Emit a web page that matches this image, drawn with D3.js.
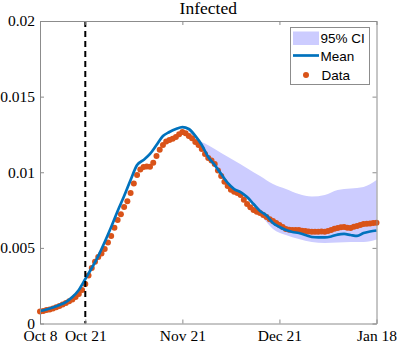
<!DOCTYPE html>
<html>
<head>
<meta charset="utf-8">
<script src="https://cdn.jsdelivr.net/npm/d3@7"></script>
<style>
  html, body { margin: 0; padding: 0; background: #fff; }
  svg { display: block; }
</style>
</head>
<body>
<svg id="chart" width="399" height="343"></svg>
<script>
// day index 0 = Oct 8
const tickDays = [0, 14, 44, 74, 104]
const tickLabels = ['Oct 8', 'Oct 21', 'Nov 21', 'Dec 21', 'Jan 18']
const yTicks = [0, 0.005, 0.01, 0.015, 0.02]
const cutoffDay = 14

// observed data, one per day
const observed = [
  0.00079, 0.00083, 0.00089, 0.00093, 0.00099, 0.00107, 0.00116, 0.00125, 0.00136, 0.00147,
  0.00159, 0.00176, 0.00195, 0.00222, 0.00261, 0.00318, 0.00367, 0.00408, 0.00440, 0.00462,
  0.00493, 0.00535, 0.00579, 0.00633, 0.00684, 0.00722, 0.00770, 0.00808, 0.00863, 0.00926,
  0.00982, 0.01018, 0.01035, 0.01038, 0.01037, 0.01062, 0.01107, 0.01148, 0.01180, 0.01203,
  0.01213, 0.01222, 0.01233, 0.01252, 0.01266, 0.01258, 0.01240, 0.01224, 0.01200, 0.01180,
  0.01154, 0.01120, 0.01094, 0.01078, 0.01055, 0.01012, 0.00975, 0.00938, 0.00909, 0.00885,
  0.00871, 0.00862, 0.00850, 0.00818, 0.00790, 0.00768, 0.00750, 0.00739, 0.00731, 0.00718,
  0.00704, 0.00690, 0.00678, 0.00664, 0.00651, 0.00638, 0.00625, 0.00620, 0.00618, 0.00619,
  0.00618, 0.00614, 0.00612, 0.00609, 0.00607, 0.00606, 0.00607, 0.00609, 0.00607, 0.00612,
  0.00618, 0.00626, 0.00631, 0.00636, 0.00638, 0.00633, 0.00631, 0.00640, 0.00645, 0.00652,
  0.00658, 0.00660, 0.00661, 0.00664, 0.00666
]

// model mean, every 2 days
const meanDays = [0, 2, 4, 6, 8, 10, 12, 14, 16, 18, 20, 22, 24, 26, 28, 30, 32, 34, 36, 38,
  40, 42, 44, 46, 48, 50, 52, 54, 56, 58, 60, 62, 64, 66, 68, 70, 72, 74, 76, 78,
  80, 82, 84, 86, 88, 90, 92, 94, 96, 98, 100, 102, 104]
const meanVals = [0.00083, 0.00093, 0.00106, 0.00122, 0.00142, 0.00175, 0.00222, 0.00294, 0.00367, 0.00446,
  0.00539, 0.00638, 0.00744, 0.00843, 0.00949, 0.01048, 0.01081, 0.01121, 0.01180, 0.01240,
  0.01266, 0.01286, 0.01299, 0.01286, 0.01240, 0.01180, 0.01101, 0.01048, 0.00988, 0.00929,
  0.00889, 0.00869, 0.00836, 0.00790, 0.00744, 0.00714, 0.00665, 0.00638, 0.00618, 0.00605,
  0.00598, 0.00585, 0.00572, 0.00569, 0.00569, 0.00575, 0.00588, 0.00592, 0.00585, 0.00579,
  0.00598, 0.00608, 0.00615]

// 95% CI band
const ciDays = [45, 48, 52, 56, 60, 64, 68, 72, 76, 80, 84, 88, 92, 96, 100, 104]
const ciUpper = [0.01293, 0.01227, 0.01179, 0.01128, 0.01078, 0.01027, 0.00975, 0.00922,
  0.00889, 0.00856, 0.00840, 0.00850, 0.00883, 0.00893, 0.00903, 0.00949]
const ciLower = [0.01293, 0.01233, 0.01094, 0.00975, 0.00876, 0.00823, 0.00724, 0.00625,
  0.00585, 0.00559, 0.00539, 0.00532, 0.00536, 0.00539, 0.00539, 0.00555]

const colCI = '#ccccff', colMean = '#0072bd', colData = '#d95319'
const serif = '"Liberation Serif", "Times New Roman", serif'
const sans = '"Liberation Sans", Arial, sans-serif'

const svg = d3.select('#chart')
const mLeft = 40, mRight = 376.5, mTop = 21, mBottom = 323.5

const x = d3.scaleLinear().domain([0, 104]).range([mLeft, mRight])
const y = d3.scaleLinear().domain([0, 0.02]).range([mBottom, mTop])

// CI band
const ci = ciDays.map((d, i) => [d, ciLower[i], ciUpper[i]])
svg.append('path')
    .datum(ci)
    .attr('fill', colCI)
    .attr('d', d3.area().x(d => x(d[0])).y0(d => y(d[1])).y1(d => y(d[2])).curve(d3.curveMonotoneX))

// data dots
svg.append('g').selectAll('circle').data(observed)
    .join('circle')
    .attr('cx', (d, i) => x(i))
    .attr('cy', d => y(d))
    .attr('r', 3)
    .attr('fill', colData)

// mean line
svg.append('path')
    .datum(meanDays.map((d, i) => [d, meanVals[i]]))
    .attr('fill', 'none')
    .attr('stroke', colMean)
    .attr('stroke-width', 2.7)
    .attr('stroke-linejoin', 'round')
    .attr('d', d3.line().x(d => x(d[0])).y(d => y(d[1])).curve(d3.curveMonotoneX))

// dashed cutoff
svg.append('line')
    .attr('x1', x(cutoffDay)).attr('x2', x(cutoffDay))
    .attr('y1', mTop).attr('y2', mBottom)
    .attr('stroke', '#000')
    .attr('stroke-width', 2)
    .attr('stroke-dasharray', '6,4')

// AXES (inward ticks, box)
const axisCol = '#8c8c8c'
function styleAxis(g) {
    g.selectAll('path.domain').attr('stroke', axisCol)
    g.selectAll('.tick line').attr('stroke', axisCol)
    g.selectAll('.tick text').attr('fill', '#000').style('font-family', serif).style('font-size', '15.5px')
}

svg.append('g')
    .attr('transform', `translate(0, ${mBottom})`)
    .call(d3.axisBottom(x).tickValues(tickDays).tickFormat((d, i) => tickLabels[i]).tickSizeInner(-4).tickSizeOuter(0).tickPadding(6))
    .call(styleAxis)

svg.append('g')
    .attr('transform', `translate(${mLeft}, 0)`)
    .call(d3.axisLeft(y).tickValues(yTicks).tickFormat(d => d === 0 ? '0' : String(+d.toFixed(3))).tickSizeInner(-4).tickSizeOuter(0).tickPadding(5))
    .call(styleAxis)

svg.append('g')
    .attr('transform', `translate(0, ${mTop})`)
    .call(d3.axisTop(x).tickValues(tickDays).tickFormat('').tickSizeInner(-4).tickSizeOuter(0))
    .call(styleAxis)

svg.append('g')
    .attr('transform', `translate(${mRight}, 0)`)
    .call(d3.axisRight(y).tickValues(yTicks).tickFormat('').tickSizeInner(-4).tickSizeOuter(0))
    .call(styleAxis)

// title
svg.append('text')
    .attr('x', (mLeft + mRight) / 2)
    .attr('y', 14)
    .attr('text-anchor', 'middle')
    .style('font-family', serif)
    .style('font-size', '17.5px')
    .text('Infected')

// LEGEND
const lg = svg.append('g').attr('transform', 'translate(290, 27)')
lg.append('rect')
    .attr('x', 0.5).attr('y', 0.5).attr('width', 79).attr('height', 57)
    .attr('fill', '#fff').attr('stroke', axisCol)
lg.append('rect')
    .attr('x', 3).attr('y', 4.5).attr('width', 26).attr('height', 13.5)
    .attr('fill', colCI)
lg.append('line')
    .attr('x1', 3).attr('x2', 29).attr('y1', 28.5).attr('y2', 28.5)
    .attr('stroke', colMean).attr('stroke-width', 2.7)
lg.append('circle')
    .attr('cx', 16).attr('cy', 48).attr('r', 3).attr('fill', colData)

const legendNames = ['95% CI', 'Mean', 'Data']
lg.selectAll('text.lab').data(legendNames)
    .join('text')
    .attr('class', 'lab')
    .attr('x', (d, i) => i == 2 ? 31.5 : 30.5)
    .attr('y', (d, i) => [11.5, 29, 48][i])
    .attr('dy', '0.35em')
    .style('font-family', sans)
    .style('font-size', '13.5px')
    .text(d => d)
</script>
</body>
</html>
